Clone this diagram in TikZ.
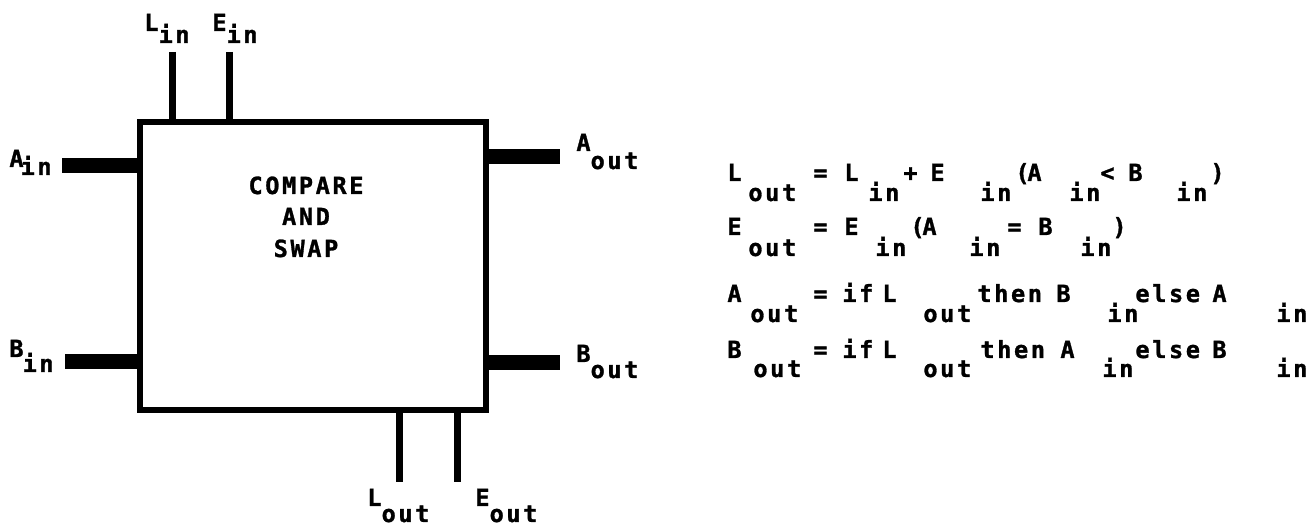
\documentclass[tikz,border=0pt]{standalone}
\usepackage{fontspec}
\newfontfamily\gothic[LetterSpace=11, BoldFeatures={FakeBold=1.2}]{DejaVu Sans Mono}
\newcommand\lowr[2]{\raisebox{-#1pt}{#2}}
\tikzset{
  tw/.style={font=\gothic\bfseries\fontsize{11.8}{13}\selectfont, inner sep=0pt, anchor=base west},
  thinport/.style={line width=3.5pt},
  busport/.style={line width=7.5pt}
}
\begin{document}
\begin{tikzpicture}[x=0.5pt,y=-0.5pt]
\useasboundingbox (0,0) rectangle (1308,529);

% the cell
\node[draw, line width=3pt, minimum width=173pt, minimum height=144pt, inner sep=0pt] (cas) at (313,266) {};
\foreach \w/\y [count=\i] in {COMPARE/194, AND/225, SWAP/257}
  \node[tw, anchor=base] (cs-\i) at (306,\y) {\w};

% ports
\coordinate (Lin) at (172,52);
\coordinate (Ein) at (229,52);
\coordinate (Lout) at (399,482);
\coordinate (Eout) at (457,482);
\coordinate (Ain) at (62,166);
\coordinate (Bin) at (65,362);
\coordinate (Aout) at (560,157);
\coordinate (Bout) at (560,363);

\draw[thinport] (Lin) -- (Lin |- cas.north);
\draw[thinport] (Ein) -- (Ein |- cas.north);
\draw[thinport] (Lout |- cas.south) -- (Lout);
\draw[thinport] (Eout |- cas.south) -- (Eout);
\draw[busport] (Ain) -- (Ain -| cas.west);
\draw[busport] (Bin) -- (Bin -| cas.west);
\draw[busport] (Aout -| cas.east) -- (Aout);
\draw[busport] (Bout -| cas.east) -- (Bout);

\node[tw] (Lin-l) at (144,31) {L\lowr{6}{in}};
\node[tw] (Ein-l) at (212,31) {E\lowr{6}{in}};
\node[tw] (Ain-l) at (9,167) {A\kern-1.5pt\lowr{4}{in}};
\node[tw] (Bin-l) at (9,357) {B\kern-0.5pt\lowr{7.5}{in}};
\node[tw] (Aout-l) at (576,151) {A\lowr{9}{out}};
\node[tw] (Bout-l) at (576,362) {B\lowr{8}{out}};
\node[tw] (Lout-l) at (367,506) {L\lowr{8}{out}};
\node[tw] (Eout-l) at (475,506) {E\lowr{8}{out}};

% equations: main row and lowered row
\foreach \x/\t [count=\i] in {727/L, 813/=, 844/L, 903/+, 930/E, 1015/{(}, 1027/A, 1100/{<}, 1128/B, 1210/{)}}
  \node[tw] (e1-\i) at (\x,181) {\t};
\foreach \x/\t [count=\i] in {748/out, 868/in, 980/in, 1069/in, 1176/in}
  \node[tw] (s1-\i) at (\x,201) {\t};

\foreach \x/\t [count=\i] in {727/E, 813/=, 844/E, 910/{(}, 922/A, 1007/=, 1038/B, 1112/{)}}
  \node[tw] (e2-\i) at (\x,235) {\t};
\foreach \x/\t [count=\i] in {748/out, 875/in, 969/in, 1080/in}
  \node[tw] (s2-\i) at (\x,256) {\t};

\foreach \x/\t [count=\i] in {727/A, 813/=, 842/if, 882/L, 977/then, 1056/B, 1135/else, 1212/A}
  \node[tw] (e3-\i) at (\x,302) {\t};
\foreach \x/\t [count=\i] in {750/out, 923/out, 1107/in, 1276/in}
  \node[tw] (s3-\i) at (\x,322) {\t};

\foreach \x/\t [count=\i] in {727/B, 813/=, 842/if, 882/L, 980/then, 1060/A, 1135/else, 1212/B}
  \node[tw] (e4-\i) at (\x,358) {\t};
\foreach \x/\t [count=\i] in {753/out, 923/out, 1102/in, 1276/in}
  \node[tw] (s4-\i) at (\x,377) {\t};
\end{tikzpicture}
\end{document}
